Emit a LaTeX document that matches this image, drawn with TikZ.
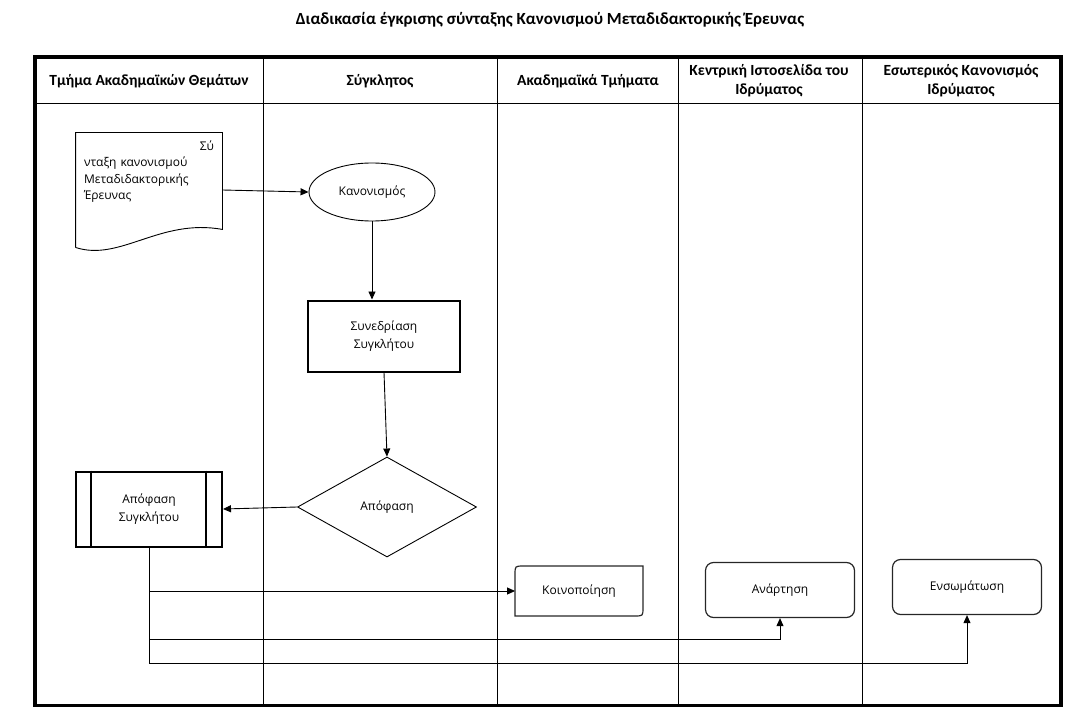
\documentclass[tikz,border=0pt]{standalone}
\usepackage{fontspec}
\setmainfont{Carlito}
\newfontfamily\boxfont{Open Sans}
\usetikzlibrary{shapes.geometric}
\usetikzlibrary{arrows.meta}
\usetikzlibrary{calc}
\tikzset{
    flow/.style={-{Triangle[length=8pt,width=7pt]}},
    lanehead/.style={font=\bfseries\fontsize{15.5}{19}\selectfont,align=center},
    boxtext/.style={font=\boxfont\fontsize{12}{18}\selectfont,align=center},
    roundbox/.style={draw=black!85,line width=1.2pt,rounded corners=8,minimum width=149,minimum height=55,boxtext}
}
\begin{document}
\begin{tikzpicture}[x=1pt,y=-1pt,line width=0.9pt]
\useasboundingbox (0,0) rectangle (1078,722);
\node (title) at (550,20) [font=\bfseries\fontsize{17}{20}\selectfont] {Διαδικασία έγκρισης σύνταξης Κανονισμού Μεταδιδακτορικής Έρευνας};
\draw[line width=3.5pt] (35,57) rectangle (1061,705.5);
\draw (35,103) -- (1061,103);
\foreach \x in {263,497,678,862}{
    \draw (\x,57) -- (\x,705.5);
}
\foreach \x/\n/\t in {149/lane1/{Τμήμα Ακαδημαϊκών Θεμάτων}, 380/lane2/{Σύγκλητος}, 588/lane3/{Ακαδημαϊκά Τμήματα}, 769/lane4/{Κεντρική Ιστοσελίδα του\\Ιδρύματος}, 961/lane5/{Εσωτερικός Κανονισμός\\Ιδρύματος}}{
    \node (\n) at (\x,81) [lanehead] {\t};
}
\node (doc) at (149,190) [minimum width=146, minimum height=114, inner sep=0] {};
\draw (doc.south west) -- (doc.north west) -- (doc.north east) -- ($(doc.south east)+(0,-18)$) .. controls (160,218) and (120,262) .. (doc.south west);
\node (doctext) at ($(doc.north)+(0,4)$) [anchor=north, text width=130, align=left, font=\boxfont\fontsize{12}{16.5}\selectfont] {\hfill Σύ\\νταξη κανονισμού\\Μεταδιδακτορικής\\Έρευνας};
\node (kan) at (372,192) [ellipse, draw, minimum width=126, minimum height=58, boxtext] {Κανονισμός};
\node (syn) at (384,336) [draw, line width=2pt, minimum width=152, minimum height=71, boxtext] {Συνεδρίαση\\Συγκλήτου};
\node (dec) at (387,507) [diamond, draw, minimum width=179, minimum height=100, inner sep=0, boxtext] {Απόφαση};
\node (apsyn) at (149,509) [draw, line width=2pt, minimum width=146, minimum height=75, boxtext] {Απόφαση\\Συγκλήτου};
\draw[line width=2pt] ($(apsyn.north west)+(16,0)$) -- ($(apsyn.south west)+(16,0)$);
\draw[line width=2pt] ($(apsyn.north east)+(-17,0)$) -- ($(apsyn.south east)+(-17,0)$);
\node (notif) at (579,591) [minimum width=127, minimum height=49, boxtext] {Κοινοποίηση};
\draw[draw=black!85, line width=1.2pt] (notif.south west) -- ($(notif.north west)+(0,8)$) .. controls (notif.north west) .. ($(notif.north west)+(8,0)$) -- (notif.north east) -- ($(notif.south east)+(0,-8)$) .. controls (notif.south east) .. ($(notif.south east)+(-8,0)$) -- cycle;
\node (anart) at (780,590) [roundbox] {Ανάρτηση};
\node (ensom) at (967,587) [roundbox] {Ενσωμάτωση};
\draw[flow] (doc.east) -- (kan.west);
\draw[flow] (kan.south) -- (kan.south |- syn.north);
\draw[flow] (syn.south) -- (dec.north);
\draw[flow] (dec.west) -- (apsyn.east);
\coordinate (fork1) at (apsyn.south |- notif.west);
\coordinate (fork2) at ($(apsyn.south)+(0,92)$);
\coordinate (fork3) at ($(apsyn.south)+(0,116)$);
\draw (apsyn.south) -- (fork3);
\draw[flow] (fork1) -- (notif.west);
\draw[flow] (fork2) -| (anart.south);
\draw[flow] (fork3) -| (ensom.south);
\end{tikzpicture}
\end{document}
